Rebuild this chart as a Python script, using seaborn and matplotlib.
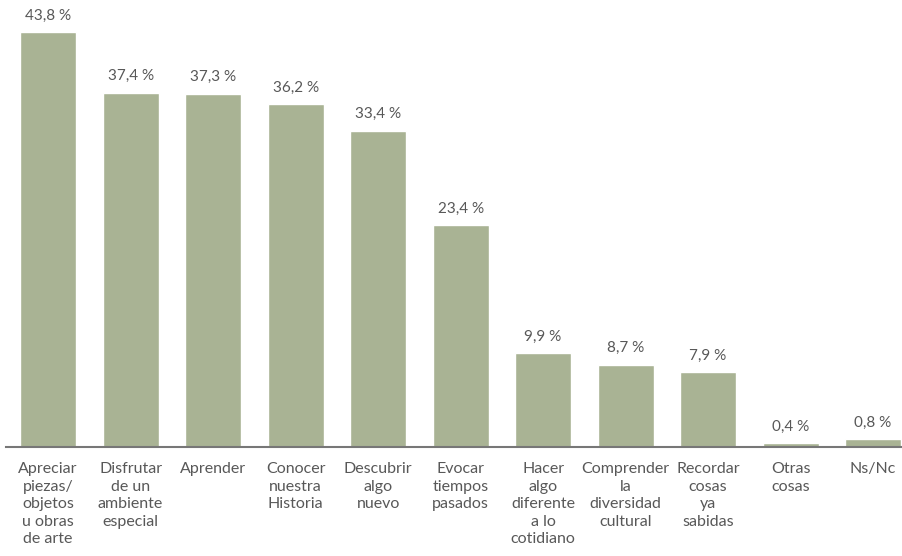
import matplotlib
matplotlib.use("Agg")
import matplotlib.pyplot as plt
import seaborn as sns
import pandas as pd

categories = [
    "Apreciar\npiezas/\nobjetos\nu obras\nde arte",
    "Disfrutar\nde un\nambiente\nespecial",
    "Aprender",
    "Conocer\nnuestra\nHistoria",
    "Descubrir\nalgo\nnuevo",
    "Evocar\ntiempos\npasados",
    "Hacer\nalgo\ndiferente\na lo\ncotidiano",
    "Comprender\nla\ndiversidad\ncultural",
    "Recordar\ncosas\nya\nsabidas",
    "Otras\ncosas",
    "Ns/Nc",
]
values = [43.8, 37.4, 37.3, 36.2, 33.4, 23.4, 9.9, 8.7, 7.9, 0.4, 0.8]
value_labels = ["43,8 %", "37,4 %", "37,3 %", "36,2 %", "33,4 %", "23,4 %",
                "9,9 %", "8,7 %", "7,9 %", "0,4 %", "0,8 %"]

sns.set_style("white")
plt.rcParams["font.family"] = ["Lato", "DejaVu Sans"]

df = pd.DataFrame({"cat": categories, "val": values})

fig = plt.figure(figsize=(9.02, 5.56), dpi=100)
ax = fig.add_axes([6 / 902, 1 - 447 / 556, 896 / 902, 447 / 556])
sns.barplot(data=df, x="cat", y="val", color="#a9b394", saturation=1,
            width=0.68, ax=ax)

for i, (v, lab) in enumerate(zip(values, value_labels)):
    ax.annotate(lab, (i, v), xytext=(0, 7), textcoords="offset points",
                ha="center", va="bottom", fontsize=11, color="#585858")

ax.set_xlim(-0.51, 10.35)
ax.set_ylim(0, 47.2)
ax.set_xlabel("")
ax.set_ylabel("")
ax.set_yticks([])
for s in ["top", "right", "left"]:
    ax.spines[s].set_visible(False)
ax.spines["bottom"].set_color("#777777")
ax.spines["bottom"].set_linewidth(1.5)
ax.tick_params(axis="x", length=0, pad=11, labelsize=11.5, labelcolor="#585858")
for t in ax.get_xticklabels():
    t.set_linespacing(1.32)
    t.set_ha("center")

fig.savefig("out.png", dpi=100)
